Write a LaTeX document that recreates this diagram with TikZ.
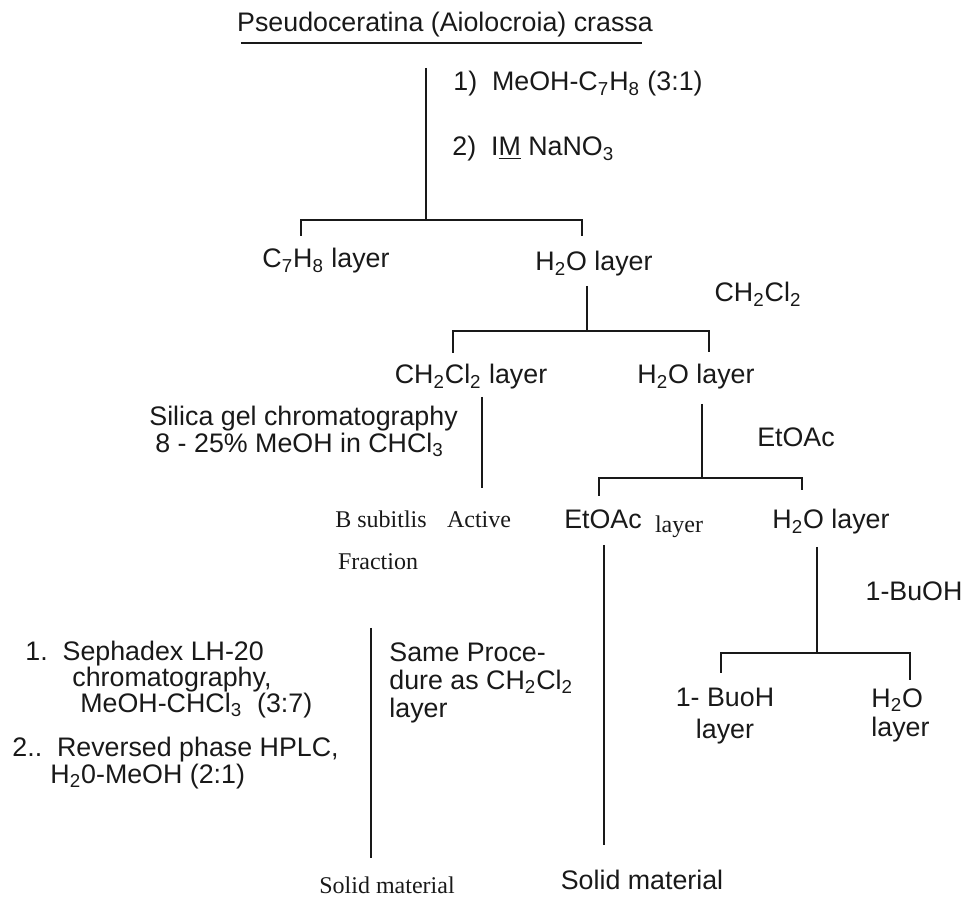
\documentclass[tikz,border=0pt]{standalone}
\usepackage{fontspec}
\setmainfont{Liberation Sans}
\newfontfamily\timesfont{Liberation Serif}
\usetikzlibrary{calc}
\definecolor{schemedark}{RGB}{25,25,25}
\newcommand{\chemsub}[1]{\textsubscript{#1}}
\tikzset{
  scheme text/.style={
    inner sep=0pt,
    text=schemedark,
    font=\fontsize{13.4}{13.5}\selectfont,
  },
  scheme serif/.style={
    inner sep=0pt,
    text=schemedark,
    font=\timesfont\fontsize{12}{12}\selectfont,
  },
  scheme line/.style={
    line width=0.8pt,
    draw=schemedark,
  },
}

\begin{document}
\begin{tikzpicture}[x=0.5pt,y=-0.5pt]
  \useasboundingbox (0,0) rectangle (965,897);

  % sponge and first extraction
  \node[scheme text, anchor=base] (sponge) at (445,32) {Pseudoceratina (Aiolocroia) crassa};
  \node[scheme text, anchor=base west] (extract) at (453,91) {1)\ \ MeOH-C\chemsub{7}H\chemsub{8} (3:1)};
  \node[scheme text, anchor=base west] (salt) at (452,156) {2)\ \ I\underline{M} NaNO\chemsub{3}};

  \node[scheme text, anchor=base] (toluene) at (326,268) {C\chemsub{7}H\chemsub{8} layer};
  \node[scheme text, anchor=base] (water1) at (594,271) {H\chemsub{2}O layer};
  \node[scheme text, anchor=base] (dcm) at (758,302) {CH\chemsub{2}Cl\chemsub{2}};

  \node[scheme text, anchor=base] (dcmlayer) at (471,384) {CH\chemsub{2}Cl\chemsub{2} layer};
  \node[scheme text, anchor=base] (water2) at (696,384) {H\chemsub{2}O layer};

  \node[scheme text, anchor=north west, align=left] (silica) at (149,406)
    {Silica gel chromatography\\[-0.4pt]\hspace{3pt}8 - 25\% MeOH in CHCl\chemsub{3}};
  \node[scheme text, anchor=base] (etoac) at (796,447) {EtOAc};

  % second row of fractions
  \node[scheme serif, anchor=base] (bsub) at (381,528) {B subitlis};
  \node[scheme serif, anchor=base] (active) at (479,528) {Active};
  \node[scheme serif, anchor=base] (fraction) at (378,570) {Fraction};
  \node[scheme text, anchor=base] (etoaclayer) at (603,529) {EtOAc};
  \node[scheme serif, anchor=base] (layerword) at (679,533) {layer};
  \node[scheme text, anchor=base] (water3) at (831,529) {H\chemsub{2}O layer};
  \node[scheme text, anchor=base] (butanol) at (914,601) {1-BuOH};

  % purification steps
  \node[scheme text, anchor=north west, align=left] (sephadex) at (25,641)
    {1.\ \ Sephadex LH-20\\[-0.7pt]\hspace{23.5pt}chromatography,\\[-0.7pt]\hspace{27.5pt}MeOH-CHCl\chemsub{3}\ \ (3:7)};
  \node[scheme text, anchor=north west, align=left] (hplc) at (12,737)
    {2..\ \ Reversed phase HPLC,\\[-0.4pt]\hspace{19pt}H\chemsub{2}0-MeOH (2:1)};
  \node[scheme text, anchor=north west, align=left] (sameproc) at (389,642)
    {Same Proce-\\[0.7pt]dure as CH\chemsub{2}Cl\chemsub{2}\\[0.7pt]layer};
  \node[scheme text, anchor=north, align=center] (bulayer) at (725,688)
    {1- BuoH\\[2.5pt]layer};
  \node[scheme text, anchor=north west, align=left] (water4) at (871,688)
    {H\chemsub{2}O\\[1pt]layer};

  \node[scheme serif, anchor=base] (solid1) at (387,894) {Solid material};
  \node[scheme text, anchor=base] (solid2) at (642,890) {Solid material};

  % underline of the sponge name
  \draw[scheme line] ($(sponge.base west)+(4,11)$) -- ($(sponge.base east)+(-11,11)$);

  % branch points
  \coordinate (feed) at (426,68);
  \coordinate (fork1) at (426,220);
  \coordinate (leg1a) at (301,236);
  \coordinate (leg1b) at (582,236);
  \coordinate (feed2) at (587,286);
  \coordinate (fork2) at (587,331);
  \coordinate (leg2a) at (453,353);
  \coordinate (leg2b) at (709,352);
  \coordinate (run3a) at (482,397);
  \coordinate (run3b) at (482,488);
  \coordinate (feed4) at (702,404);
  \coordinate (fork4) at (702,478);
  \coordinate (leg4a) at (599,496);
  \coordinate (leg4b) at (802,490);
  \coordinate (run5a) at (604,545);
  \coordinate (run5b) at (604,845);
  \coordinate (feed6) at (817,547);
  \coordinate (fork6) at (817,653);
  \coordinate (leg6a) at (721,673);
  \coordinate (leg6b) at (910,680);
  \coordinate (run7a) at (371,628);
  \coordinate (run7b) at (371,858);

  \draw[scheme line] (feed) -- (fork1);
  \draw[scheme line] (leg1a) |- (fork1) -| (leg1b);
  \draw[scheme line] (feed2) -- (fork2);
  \draw[scheme line] (leg2a) |- (fork2) -| (leg2b);
  \draw[scheme line] (run3a) -- (run3b);
  \draw[scheme line] (feed4) -- (fork4);
  \draw[scheme line] (leg4a) |- (fork4) -| (leg4b);
  \draw[scheme line] (run5a) -- (run5b);
  \draw[scheme line] (feed6) -- (fork6);
  \draw[scheme line] (leg6a) |- (fork6) -| (leg6b);
  \draw[scheme line] (run7a) -- (run7b);
\end{tikzpicture}
\end{document}
